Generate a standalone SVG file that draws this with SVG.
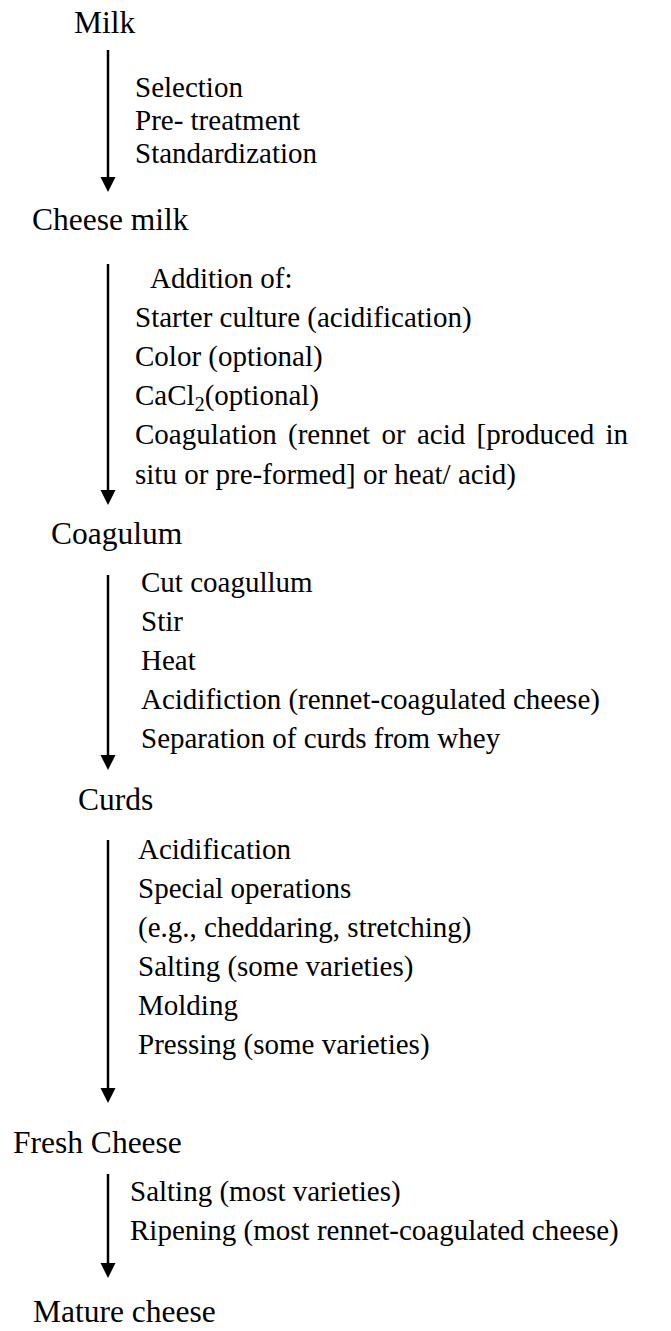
<svg xmlns="http://www.w3.org/2000/svg" width="671" height="1331" viewBox="0 0 671 1331" font-family="'Liberation Serif', 'Times New Roman', 'DejaVu Serif', serif">
<style>
text{font-family:'Liberation Serif','Times New Roman','DejaVu Serif',serif;fill:#000}
.stage{font-size:31.5px}
.step{font-size:29px}
.sub{font-size:20px}
.shaft{stroke:#000;stroke-width:2.5;fill:none}
.head{fill:#000}
</style>
<rect width="671" height="1331" fill="#fff"/>
<g id="connectors">
<line class="shaft" x1="108" y1="50" x2="108" y2="180"/><polygon class="head" points="100.5,177 115.5,177 108,192"/>
<line class="shaft" x1="108" y1="264" x2="108" y2="493"/><polygon class="head" points="100.5,490 115.5,490 108,505"/>
<line class="shaft" x1="108" y1="575" x2="108" y2="758"/><polygon class="head" points="100.5,755 115.5,755 108,770"/>
<line class="shaft" x1="108" y1="840" x2="108" y2="1091"/><polygon class="head" points="100.5,1088 115.5,1088 108,1103"/>
<line class="shaft" x1="108" y1="1174" x2="108" y2="1266"/><polygon class="head" points="100.5,1263 115.5,1263 108,1278"/>
</g>
<g id="milk"><text class="stage" x="74" y="33">Milk</text></g>
<g id="step1">
<text class="step" x="135" y="97">Selection</text>
<text class="step" x="135" y="130">Pre- treatment</text>
<text class="step" x="135" y="163">Standardization</text>
</g>
<g id="cheese-milk"><text class="stage" x="32" y="230">Cheese milk</text></g>
<g id="step2">
<text class="step" x="150" y="288">Addition of:</text>
<text class="step" x="135" y="327">Starter culture (acidification)</text>
<text class="step" x="135" y="366">Color (optional)</text>
<text class="step" x="135" y="405">CaCl<tspan class="sub" dy="6">2</tspan><tspan dy="-6">(optional)</tspan></text>
<text class="step" y="444"><tspan x="135">Coagulation</tspan><tspan x="288">(rennet</tspan><tspan x="381.5">or</tspan><tspan x="417">acid</tspan><tspan x="476.6">[produced</tspan><tspan x="605.5">in</tspan></text>
<text class="step" x="135" y="484">situ or pre-formed] or heat/ acid)</text>
</g>
<g id="coagulum"><text class="stage" x="51" y="544">Coagulum</text></g>
<g id="step3">
<text class="step" x="141" y="592">Cut coagullum</text>
<text class="step" x="141" y="631">Stir</text>
<text class="step" x="141" y="670">Heat</text>
<text class="step" x="141" y="709">Acidifiction (rennet-coagulated cheese)</text>
<text class="step" x="141" y="748">Separation of curds from whey</text>
</g>
<g id="curds"><text class="stage" x="78" y="810">Curds</text></g>
<g id="step4">
<text class="step" x="138" y="859">Acidification</text>
<text class="step" x="138" y="898">Special operations</text>
<text class="step" x="138" y="937">(e.g., cheddaring, stretching)</text>
<text class="step" x="138" y="976">Salting (some varieties)</text>
<text class="step" x="138" y="1015">Molding</text>
<text class="step" x="138" y="1054">Pressing (some varieties)</text>
</g>
<g id="fresh-cheese"><text class="stage" x="13" y="1153">Fresh Cheese</text></g>
<g id="step5">
<text class="step" x="130" y="1201">Salting (most varieties)</text>
<text class="step" x="130" y="1240">Ripening (most rennet-coagulated cheese)</text>
</g>
<g id="mature-cheese"><text class="stage" x="33" y="1322">Mature cheese</text></g>
</svg>
